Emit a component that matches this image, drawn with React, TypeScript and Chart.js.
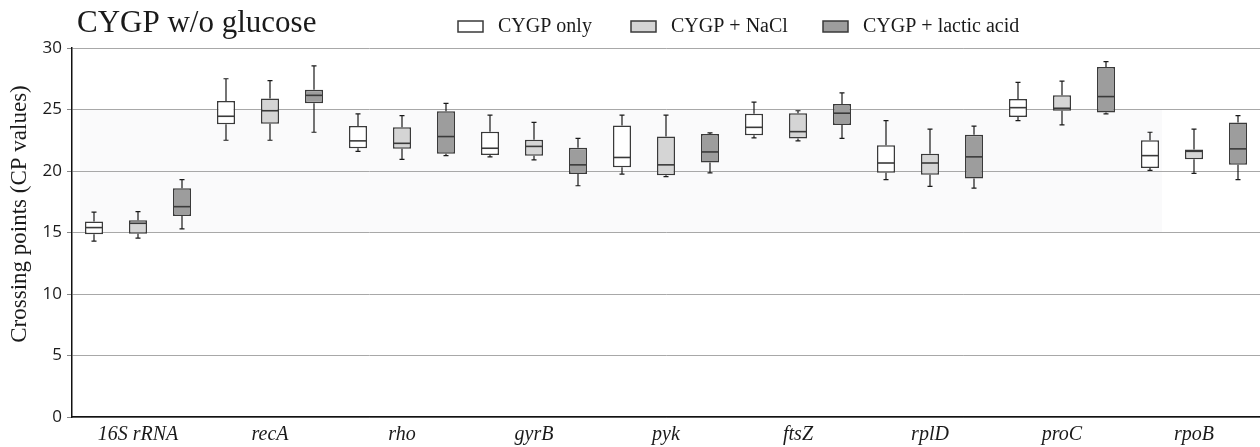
import React, { useEffect, useRef } from 'react';
import { Chart, registerables } from 'chart.js';

Chart.register(...registerables);

const chartTitle = 'CYGP w/o glucose';
const yAxisTitle = 'Crossing points (CP values)';
const categories = ['16S rRNA', 'recA', 'rho', 'gyrB', 'pyk', 'ftsZ', 'rplD', 'proC', 'rpoB'];
const seriesLabels = ['CYGP only', 'CYGP + NaCl', 'CYGP + lactic acid'];

// each entry: [min, q1, median, q3, max]
const cygpOnly = [
  [14.3, 14.85, 15.4, 15.9, 16.65],
  [22.5, 23.8, 24.45, 25.7, 27.5],
  [21.6, 21.85, 22.45, 23.65, 24.65],
  [21.15, 21.3, 21.85, 23.2, 24.55],
  [19.75, 20.3, 21.1, 23.7, 24.55],
  [22.7, 22.9, 23.55, 24.65, 25.6],
  [19.3, 19.85, 20.65, 22.1, 24.1],
  [24.1, 24.4, 25.15, 25.85, 27.2],
  [20.05, 20.25, 21.25, 22.5, 23.15],
];
const cygpNaCl = [
  [14.55, 14.9, 15.75, 16.0, 16.7],
  [22.5, 23.85, 24.9, 25.9, 27.35],
  [20.95, 21.8, 22.25, 23.55, 24.5],
  [20.9, 21.25, 22.0, 22.55, 23.95],
  [19.55, 19.65, 20.5, 22.8, 24.55],
  [22.45, 22.65, 23.2, 24.7, 24.9],
  [18.75, 19.7, 20.65, 21.4, 23.4],
  [23.75, 24.9, 25.1, 26.15, 27.3],
  [19.8, 20.95, 21.6, 21.75, 23.4],
];
const cygpLactic = [
  [15.3, 16.35, 17.1, 18.6, 19.3],
  [23.15, 25.5, 26.15, 26.6, 28.55],
  [21.25, 21.4, 22.8, 24.85, 25.5],
  [18.8, 19.75, 20.5, 21.9, 22.65],
  [19.85, 20.7, 21.55, 23.0, 23.1],
  [22.65, 23.75, 24.7, 25.45, 26.35],
  [18.6, 19.4, 21.15, 22.95, 23.65],
  [24.65, 24.75, 26.05, 28.45, 28.9],
  [19.3, 20.5, 21.8, 23.95, 24.5],
];
const yMin = 0;
const yMax = 30;
const yStep = 5;

const seriesStats = [cygpOnly, cygpNaCl, cygpLactic];
const fills = ['#ffffff', '#d5d5d5', '#9d9d9d'];
const edge = '#3a3a3a';
const legendX = [458, 631, 823];

const boxPlugin = {
  id: 'boxWhiskers',
  beforeDraw(chart: any) {
    const { ctx, scales } = chart;
    const y = scales.y;
    const top = y.getPixelForValue(25);
    const bot = y.getPixelForValue(15);
    ctx.save();
    ctx.fillStyle = '#fafafb';
    ctx.fillRect(80, top, 1162 - 80, bot - top);
    ctx.restore();
  },
  afterDatasetsDraw(chart: any) {
    const { ctx } = chart;
    const y = chart.scales.y;
    chart.data.datasets.forEach((ds: any, i: number) => {
      const meta = chart.getDatasetMeta(i);
      meta.data.forEach((bar: any, j: number) => {
        const s = ds.stats[j];
        const { x, width } = bar.getProps(['x', 'width'], true);
        const pMin = y.getPixelForValue(s[0]);
        const pQ1 = y.getPixelForValue(s[1]);
        const pMed = y.getPixelForValue(s[2]);
        const pQ3 = y.getPixelForValue(s[3]);
        const pMax = y.getPixelForValue(s[4]);
        ctx.save();
        ctx.strokeStyle = '#1a1a1a';
        ctx.lineWidth = 1.2;
        ctx.beginPath();
        ctx.moveTo(x, pQ3);
        ctx.lineTo(x, pMax);
        ctx.moveTo(x - 2.5, pMax);
        ctx.lineTo(x + 2.5, pMax);
        ctx.moveTo(x, pQ1);
        ctx.lineTo(x, pMin);
        ctx.moveTo(x - 2.5, pMin);
        ctx.lineTo(x + 2.5, pMin);
        ctx.stroke();
        ctx.strokeStyle = edge;
        ctx.lineWidth = 1.6;
        ctx.beginPath();
        ctx.moveTo(x - width / 2, pMed);
        ctx.lineTo(x + width / 2, pMed);
        ctx.stroke();
        ctx.restore();
      });
    });
  },
  afterDraw(chart: any) {
    const { ctx } = chart;
    ctx.save();
    ctx.fillStyle = '#1a1a1a';
    ctx.textBaseline = 'alphabetic';
    ctx.textAlign = 'left';
    ctx.font = '31px "Liberation Serif"';
    ctx.fillText(chartTitle, 77, 32);

    ctx.font = '20px "Liberation Serif"';
    chart.data.datasets.forEach((ds: any, i: number) => {
      const bx = legendX[i];
      ctx.fillStyle = ds.backgroundColor;
      ctx.fillRect(bx, 21, 25, 11);
      ctx.strokeStyle = edge;
      ctx.lineWidth = 1.5;
      ctx.strokeRect(bx, 21, 25, 11);
      ctx.fillStyle = '#1a1a1a';
      ctx.fillText(ds.label, bx + 40, 31.5);
    });

    ctx.translate(20, 214);
    ctx.rotate(-Math.PI / 2);
    ctx.textAlign = 'center';
    ctx.textBaseline = 'middle';
    ctx.font = '23px "Liberation Serif"';
    ctx.fillText(yAxisTitle, 0, 0);
    ctx.restore();
  },
};

export default function App() {
  const ref = useRef<HTMLCanvasElement | null>(null);
  useEffect(() => {
    document.body.style.margin = '0';
    const canvas = ref.current;
    if (!canvas) return;
    const chart = new Chart(canvas, {
      type: 'bar',
      data: {
        labels: categories,
        datasets: seriesStats.map((stats, i) => ({
          label: seriesLabels[i],
          data: stats.map((s) => [s[1], s[3]]),
          stats,
          backgroundColor: fills[i],
          borderColor: edge,
          borderWidth: 1.5,
          borderSkipped: false,
          categoryPercentage: 1.0,
          barPercentage: 0.41,
        })) as any,
      },
      options: {
        animation: false,
        responsive: true,
        maintainAspectRatio: false,
        layout: { padding: { top: 48, left: 0, right: 0, bottom: 0 } },
        plugins: {
          legend: { display: false },
          title: { display: false },
          tooltip: { enabled: false },
        },
        scales: {
          x: {
            grid: { display: false, drawTicks: false },
            border: { display: true, color: '#111', width: 1.5 },
            ticks: {
              color: '#1a1a1a',
              padding: 6,
              font: { family: '"Liberation Serif"', size: 20, style: 'italic' },
            },
            afterFit: (s: any) => {
              s.height = 30;
            },
          },
          y: {
            min: yMin,
            max: yMax,
            grid: { color: '#a8a8a8', lineWidth: 1, tickLength: 5, tickColor: '#888' },
            border: { display: true, color: '#111', width: 1.5 },
            ticks: {
              stepSize: yStep,
              color: '#1a1a1a',
              padding: 5,
              font: { family: '"Open Sans"', size: 17 },
            },
            afterFit: (s: any) => {
              s.width = 72;
            },
          },
        },
      },
      plugins: [boxPlugin],
    });
    return () => chart.destroy();
  }, []);
  return (
    <div style={{ position: 'relative', width: '1260px', height: '447px' }}>
      <canvas ref={ref} />
    </div>
  );
}
